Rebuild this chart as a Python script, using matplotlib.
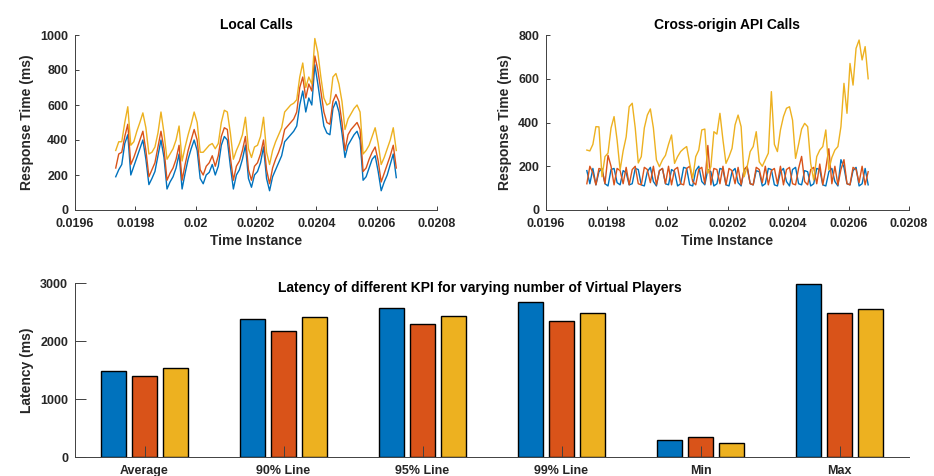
import numpy as np
import matplotlib
matplotlib.use("Agg")
import matplotlib.pyplot as plt

plt.rcParams['font.family'] = ['Liberation Sans', 'DejaVu Sans']
plt.rcParams['font.weight'] = 'bold'

# ---------------- data ----------------
t_start, t_end = 0.019735, 0.020665

local_blue = [190, 230, 260, 380, 430, 200, 250, 300, 350, 400, 290, 145, 180, 220, 310, 400,
              300, 120, 160, 190, 240, 320, 120, 210, 290, 350, 400, 340, 180, 150, 200, 215,
              260, 200, 250, 370, 420, 400, 250, 120, 200, 230, 290, 370, 180, 130, 200, 220,
              270, 360, 180, 110, 190, 230, 270, 310, 390, 410, 430, 450, 480, 600, 680, 560,
              640, 600, 830, 720, 600, 480, 440, 430, 580, 620, 560, 440, 300, 370, 400, 430,
              450, 400, 170, 190, 240, 290, 310, 220, 110, 160, 200, 260, 320, 185]
local_red = [240, 320, 330, 420, 490, 260, 300, 350, 400, 450, 340, 190, 230, 270, 360, 450,
             350, 170, 210, 240, 290, 370, 170, 260, 340, 400, 460, 400, 230, 200, 250, 270,
             310, 250, 310, 420, 470, 460, 300, 170, 250, 280, 340, 420, 230, 170, 250, 270,
             320, 400, 230, 150, 240, 290, 330, 380, 460, 480, 500, 520, 560, 700, 760, 640,
             720, 680, 880, 800, 680, 560, 500, 490, 620, 660, 620, 500, 340, 430, 460, 480,
             500, 460, 220, 240, 290, 330, 360, 280, 160, 210, 260, 310, 370, 240]
local_yellow = [340, 390, 390, 500, 590, 370, 390, 450, 500, 555, 470, 320, 330, 360, 440, 560,
                440, 290, 320, 350, 400, 480, 280, 360, 430, 490, 560, 500, 330, 330, 350, 370,
                380, 350, 380, 500, 570, 560, 440, 290, 340, 380, 430, 530, 350, 300, 360, 370,
                420, 530, 330, 260, 340, 390, 430, 470, 560, 580, 600, 610, 630, 760, 840, 700,
                760, 720, 980, 900, 760, 640, 600, 610, 760, 780, 720, 620, 460, 520, 550, 580,
                600, 560, 320, 340, 370, 420, 470, 380, 260, 300, 350, 400, 470, 340]

cross_blue = [180, 120, 190, 115, 175, 190, 120, 110, 185, 190, 125, 115, 180, 170, 115, 120,
              190, 185, 115, 110, 175, 195, 130, 110, 180, 190, 120, 115, 185, 175, 110, 120,
              195, 190, 115, 110, 180, 200, 130, 115, 185, 175, 110, 120, 190, 185, 115, 110,
              175, 190, 125, 110, 185, 195, 120, 115, 180, 175, 110, 120, 190, 185, 115, 110,
              175, 190, 130, 110, 185, 195, 120, 115, 180, 175, 110, 120, 190, 185, 115, 110,
              175, 190, 130, 110, 230, 195, 120, 115, 180, 195, 110, 120, 190, 115]
cross_red = [120, 200, 170, 115, 190, 185, 120, 250, 200, 115, 190, 180, 120, 195, 115, 185,
             200, 120, 115, 195, 185, 125, 200, 115, 180, 190, 120, 200, 115, 185, 195, 120,
             115, 190, 200, 130, 115, 185, 195, 120, 295, 115, 190, 185, 120, 200, 115, 190,
             180, 120, 195, 115, 185, 200, 120, 115, 195, 185, 125, 200, 115, 180, 190, 120,
             200, 115, 185, 195, 120, 115, 190, 245, 130, 115, 185, 195, 120, 210, 115, 190,
             280, 120, 200, 115, 185, 230, 120, 115, 195, 185, 125, 200, 115, 175]
cross_yellow = [274, 270, 300, 381, 380, 152, 244, 260, 375, 427, 320, 183, 270, 334, 472, 488,
                375, 215, 244, 375, 434, 462, 375, 229, 198, 229, 250, 300, 343, 213, 244, 267,
                280, 290, 213, 145, 244, 274, 366, 370, 168, 198, 358, 347, 442, 320, 213, 244,
                282, 389, 434, 381, 152, 198, 267, 290, 358, 220, 200, 230, 260, 541, 300, 267,
                366, 427, 465, 472, 411, 236, 300, 370, 396, 381, 213, 137, 244, 274, 290, 366,
                183, 240, 274, 290, 381, 579, 442, 670, 571, 739, 777, 686, 747, 600]

time_ticks = [0.0196, 0.0198, 0.0200, 0.0202, 0.0204, 0.0206, 0.0208]
time_tick_labels = ['0.0196', '0.0198', '0.02', '0.0202', '0.0204', '0.0206', '0.0208']

kpi_categories = ['Average', '90% Line', '95% Line', '99% Line', 'Min', 'Max']
kpi_blue = [1483, 2377, 2573, 2671, 300, 2983]
kpi_red = [1402, 2175, 2290, 2337, 352, 2487]
kpi_yellow = [1529, 2406, 2423, 2475, 248, 2550]

C_BLUE, C_RED, C_YEL = '#0072BD', '#D95319', '#EDB120'
TXT = '#262626'
AX = '#404040'

fig = plt.figure(figsize=(9.34, 4.76), dpi=100)
W, H = 934.0, 476.0


def px_axes(l, t, r, b):
    return fig.add_axes([l / W, 1 - b / H, (r - l) / W, (b - t) / H])


def style(ax, ticklen=3):
    for s in ['top', 'right']:
        ax.spines[s].set_visible(False)
    for s in ['left', 'bottom']:
        ax.spines[s].set_color(AX)
        ax.spines[s].set_linewidth(0.7)
    ax.tick_params(direction='in', length=ticklen, width=0.7, color=AX,
                   labelcolor=TXT, labelsize=9)
    for lab in ax.get_xticklabels() + ax.get_yticklabels():
        lab.set_fontweight('bold')


def line_panel(ax, blue, red, yellow, ymax, yticks, title):
    for ser, c in [(blue, C_BLUE), (red, C_RED), (yellow, C_YEL)]:
        x = np.linspace(t_start, t_end, len(ser))
        ax.plot(x, ser, color=c, lw=1.0)
    ax.set_xlim(time_ticks[0], time_ticks[-1])
    ax.set_ylim(0, ymax)
    ax.set_xticks(time_ticks)
    ax.set_xticklabels(time_tick_labels)
    ax.set_yticks(yticks)
    style(ax, 3)
    ax.tick_params(axis='x', pad=5.5)
    ax.tick_params(axis='y', pad=5)
    ax.set_title(title, fontsize=10, fontweight='bold', color='black', pad=4)
    ax.set_xlabel('Time Instance', fontsize=10, fontweight='bold', color=TXT, labelpad=3)
    ax.set_ylabel('Response Time (ms)', fontsize=10, fontweight='bold', color=TXT, labelpad=4)


ax1 = px_axes(75, 35, 437, 210)
line_panel(ax1, local_blue, local_red, local_yellow, 1000, [0, 200, 400, 600, 800, 1000], 'Local Calls')
ax2 = px_axes(546, 35, 909, 210)
line_panel(ax2, cross_blue, cross_red, cross_yellow, 800, [0, 200, 400, 600, 800], 'Cross-origin API Calls')

ax3 = px_axes(75, 283, 909, 457)
xc = np.arange(1, len(kpi_categories) + 1)
off, bw = 0.222, 0.178
for k, (vals, c) in enumerate([(kpi_blue, C_BLUE), (kpi_red, C_RED), (kpi_yellow, C_YEL)]):
    ax3.bar(xc + (k - 1) * off, vals, width=bw, color=c, edgecolor='black', linewidth=1.0)
ax3.set_xlim(0.5, len(kpi_categories) + 0.5)
ax3.set_ylim(0, 3000)
ax3.set_xticks(xc)
ax3.set_xticklabels(kpi_categories)
ax3.set_yticks([0, 1000, 2000, 3000])
style(ax3, 8)
ax3.tick_params(axis='x', pad=5.5)
ax3.tick_params(axis='y', pad=5)
ax3.set_ylabel('Latency (ms)', fontsize=10, fontweight='bold', color=TXT, labelpad=4)
fig.text(480 / W, 1 - 288 / H, 'Latency of different KPI for varying number of Virtual Players',
         ha='center', va='center', fontsize=10, fontweight='bold', color='black')

fig.savefig('out.png', dpi=100)
